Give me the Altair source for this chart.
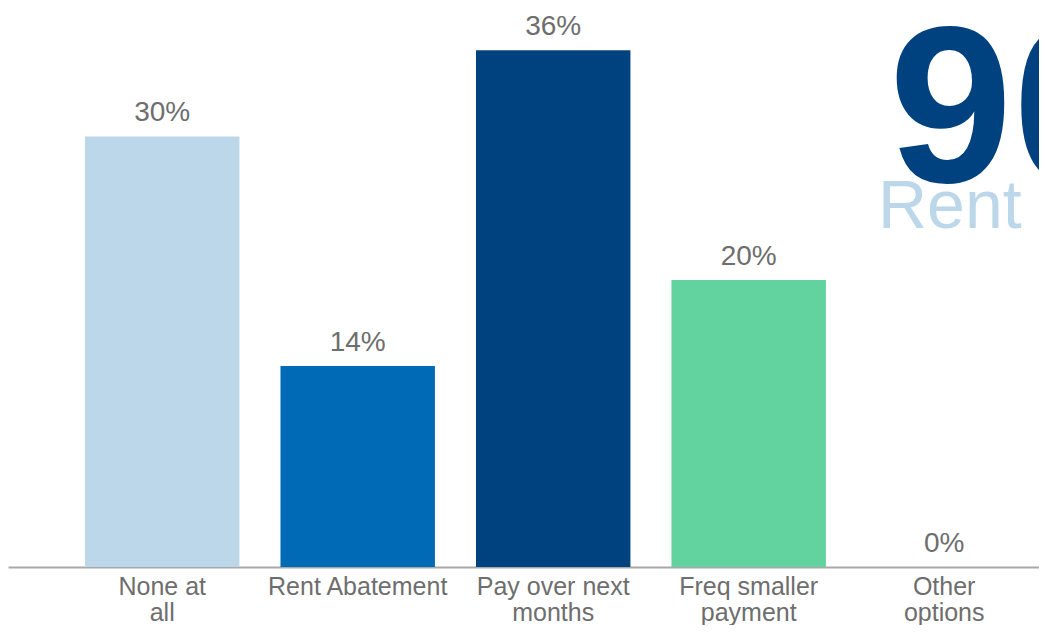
import altair as alt
import pandas as pd

categories = ["None at\nall", "Rent Abatement", "Pay over next\nmonths", "Freq smaller\npayment", "Other\noptions"]
values = [30, 14, 36, 20, 0]
colors = ["#BDD7EA", "#006AB6", "#00427F", "#62D29E", "#9E9E9E"]
headline = "90%"
subline = "Rent Collected"

df = pd.DataFrame({"cat": categories, "val": values, "color": colors,
                   "label": [f"{v}%" for v in values]})

FONT = "Liberation Sans"
GRAY = "#6E6E6E"

xenc = alt.X("cat:N", sort=categories, title=None,
             scale=alt.Scale(paddingInner=0.21, paddingOuter=0.2419, align=0.814),
             axis=alt.Axis(labelAngle=0, ticks=False, domainColor="#A8A8A8", domainWidth=2,
                           labelFont=FONT, labelFontSize=25, labelColor=GRAY, labelLimit=0,
                           labelLineHeight=26, labelPadding=7,
                           labelExpr="split(datum.value, '\\n')"))
yenc = alt.Y("val:Q", scale=alt.Scale(domain=[0, 38.95], nice=False, zero=True), axis=None)

base = alt.Chart(df)
bars = base.mark_bar().encode(x=xenc, y=yenc, color=alt.Color("color:N", scale=None))
labels = base.mark_text(baseline="alphabetic", dy=-15, font=FONT, fontSize=28, color=GRAY).encode(
    x=alt.X("cat:N", sort=categories), y="val:Q", text="label:N")

big = alt.Chart(pd.DataFrame({"t": [headline]})).mark_text(
    align="left", baseline="alphabetic", font=FONT, fontWeight="bold", fontSize=222, color="#00427F"
).encode(x=alt.value(881), y=alt.value(174), text="t:N")
sub = alt.Chart(pd.DataFrame({"t": [subline]})).mark_text(
    align="left", baseline="alphabetic", font=FONT, fontSize=68, color="#BDD7EA"
).encode(x=alt.value(870), y=alt.value(220), text="t:N")

chart = alt.layer(bars, labels, big, sub).properties(
    width=1031, height=559,
    autosize=alt.AutoSizeParams(type="none"),
    padding={"left": 0, "top": 0, "right": 0, "bottom": 58},
).configure_view(stroke=None).configure_axis(grid=False)

chart.save("out.html", embed_options={"renderer": "svg", "actions": False})
